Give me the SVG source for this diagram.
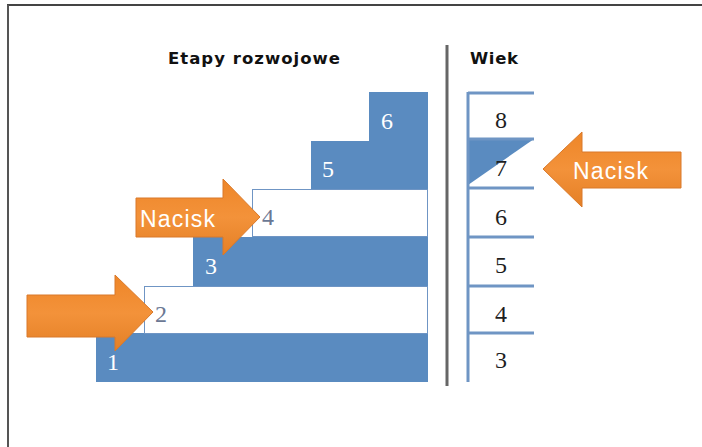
<svg xmlns="http://www.w3.org/2000/svg" width="702" height="447" viewBox="0 0 702 447">
<style>
.blue{fill:#5a8bc0}
.white{fill:#fff;stroke:#6f95c4;stroke-width:1}
.num{font-family:"Liberation Serif","DejaVu Serif",serif;font-size:24px}
.wn{fill:#fff}
.gn{fill:#6b7894}
.dn{fill:#1e1e1e}
.head{font-family:"DejaVu Sans",Verdana,sans-serif;font-size:16.5px;font-weight:bold;fill:#111}
.arrow{fill:url(#og);stroke:#d9792a;stroke-width:1}
.lbl{font-family:"Liberation Sans","Open Sans",sans-serif;font-size:23px;fill:#fff}
.tick{stroke:#6f95c4;stroke-width:3}
</style>
<defs>
<linearGradient id="og" x1="0" y1="0" x2="0" y2="1">
<stop offset="0" stop-color="#ee8628"/>
<stop offset="0.5" stop-color="#f3923a"/>
<stop offset="1" stop-color="#e47f26"/>
</linearGradient>
</defs>
<rect width="702" height="447" fill="#fff"/>
<line x1="7" y1="5" x2="702" y2="5" stroke="#444" stroke-width="2"/>
<line x1="8" y1="5" x2="8" y2="447" stroke="#555" stroke-width="2"/>
<line x1="447" y1="45" x2="447" y2="386" stroke="#666" stroke-width="3"/>
<text class="head" x="168" y="64" textLength="172">Etapy rozwojowe</text>
<text class="head" x="470" y="64" textLength="48">Wiek</text>
<g id="stages">
<g id="step1"><rect class="blue" x="96" y="333" width="332" height="49"/><text class="num wn" x="107" y="370">1</text></g>
<g id="step2"><rect class="white" x="144.5" y="286.5" width="283" height="47"/><text class="num gn" x="155" y="322">2</text></g>
<g id="step3"><rect class="blue" x="193" y="237" width="235" height="49"/><text class="num wn" x="205" y="274">3</text></g>
<g id="step4"><rect class="white" x="252.5" y="189.5" width="175" height="47"/><text class="num gn" x="262" y="225">4</text></g>
<g id="step5"><rect class="blue" x="311" y="141" width="117" height="48"/><text class="num wn" x="322" y="177">5</text></g>
<g id="step6"><rect class="blue" x="369" y="92" width="59" height="49"/><text class="num wn" x="381" y="129">6</text></g>
</g>
<g id="ages">
<polygon class="blue" points="468,139 534,139 468,185"/>
<line class="tick" x1="468" y1="92" x2="468" y2="382"/>
<line class="tick" x1="468" y1="93" x2="534" y2="93"/>
<line class="tick" x1="468" y1="139" x2="534" y2="139"/>
<line class="tick" x1="468" y1="188" x2="534" y2="188"/>
<line class="tick" x1="468" y1="237" x2="534" y2="237"/>
<line class="tick" x1="468" y1="286" x2="534" y2="286"/>
<line class="tick" x1="468" y1="333" x2="534" y2="333"/>
<text class="num dn" x="495" y="128">8</text>
<text class="num dn" x="495" y="176">7</text>
<text class="num dn" x="495" y="225">6</text>
<text class="num dn" x="495" y="273">5</text>
<text class="num dn" x="495" y="322">4</text>
<text class="num dn" x="495" y="368">3</text>
</g>
<g id="connectors">
<g id="arrow-right-age"><polygon class="arrow" points="543,169 582,132 582,152 681,152 681,188 582,188 582,207"/><text class="lbl" x="573" y="179" textLength="75">Nacisk</text></g>
<g id="arrow-step4"><polygon class="arrow" points="136,198 223,198 223,179 260,217 223,255 223,237 136,237"/><text class="lbl" x="140" y="227" textLength="75">Nacisk</text></g>
<g id="arrow-step2"><polygon class="arrow" points="27,295 115,295 115,275 153,312 115,351 115,337 27,337"/></g>
</g>
</svg>
